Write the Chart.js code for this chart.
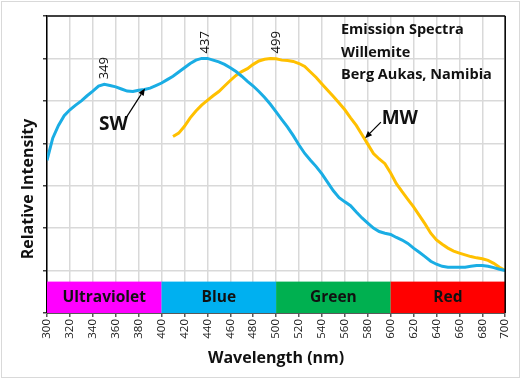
<!DOCTYPE html>
<html>
<head>
<meta charset="utf-8">
<script src="https://cdn.jsdelivr.net/npm/chart.js@4.4.1/dist/chart.umd.min.js"></script>
<style>
html,body{margin:0;padding:0;background:#fff;}
#wrap{width:521px;height:379px;position:relative;}
</style>
</head>
<body>
<div id="wrap"><canvas id="c" width="521" height="379"></canvas></div>
<script>
// Wavelength categories (nm)
const wavelengths = [300,305,310,315,320,325,330,335,340,345,350,355,360,365,370,375,380,385,390,395,
400,405,410,415,420,425,430,435,440,445,450,455,460,465,470,475,480,485,490,495,
500,505,510,515,520,525,530,535,540,545,550,555,560,565,570,575,580,585,590,595,
600,605,610,615,620,625,630,635,640,645,650,655,660,665,670,675,680,685,690,695,700];

// SW (short wave UV) relative intensity
const swValues = [2.60,3.12,3.42,3.65,3.79,3.90,4.00,4.12,4.23,4.35,4.39,4.36,4.33,4.28,4.23,4.22,4.25,4.27,4.30,4.36,
4.42,4.50,4.58,4.68,4.78,4.88,4.96,5.00,5.00,4.96,4.92,4.86,4.78,4.69,4.58,4.46,4.35,4.22,4.08,3.92,
3.74,3.56,3.38,3.18,2.96,2.76,2.60,2.45,2.28,2.08,1.88,1.72,1.62,1.53,1.38,1.24,1.12,1.00,0.92,0.88,
0.85,0.78,0.72,0.64,0.53,0.43,0.33,0.22,0.15,0.10,0.08,0.08,0.08,0.08,0.10,0.12,0.12,0.10,0.07,0.03,0.00];

// MW (mid wave UV) relative intensity
const mwValues = [null,null,null,null,null,null,null,null,null,null,null,null,null,null,null,null,null,null,null,null,
null,null,3.16,3.24,3.40,3.60,3.76,3.90,4.01,4.12,4.22,4.35,4.48,4.60,4.69,4.76,4.86,4.94,4.98,5.00,
4.99,4.96,4.95,4.93,4.88,4.81,4.68,4.55,4.40,4.25,4.10,3.95,3.79,3.60,3.42,3.20,2.98,2.76,2.63,2.52,
2.30,2.05,1.86,1.68,1.50,1.30,1.10,0.88,0.72,0.62,0.53,0.46,0.41,0.37,0.33,0.30,0.28,0.24,0.17,0.08,0.00];

// Spectral bands
const bandNames = ['Ultraviolet','Blue','Green','Red'];
const bandFrom = [300,400,500,600];
const bandTo = [400,500,600,700];
const bandColors = ['#FF00FF','#00B0F0','#00B050','#FF0000'];

// Peak labels
const peakLabels = ['349','437','499'];
const peakX = [349,437,499];
const peakY = [4.39,5.00,5.00];

const titleLines = ['Emission Spectra','Willemite','Berg Aukas, Namibia'];

function pts(vals){
  const out=[];
  for(let i=0;i<wavelengths.length;i++){ if(vals[i]!==null) out.push({x:wavelengths[i],y:vals[i]}); }
  return out;
}

const FONT = '"Open Sans", "Noto Sans", sans-serif';

function arrow(ctx, x1,y1,x2,y2){
  ctx.save();
  ctx.strokeStyle='#000'; ctx.fillStyle='#000'; ctx.lineWidth=1.2;
  const a=Math.atan2(y2-y1,x2-x1);
  const hl=7, hw=3;
  const bx=x2-hl*Math.cos(a), by=y2-hl*Math.sin(a);
  ctx.beginPath(); ctx.moveTo(x1,y1); ctx.lineTo(bx,by); ctx.stroke();
  ctx.beginPath(); ctx.moveTo(x2,y2);
  ctx.lineTo(bx+hw*Math.sin(a), by-hw*Math.cos(a));
  ctx.lineTo(bx-hw*Math.sin(a), by+hw*Math.cos(a));
  ctx.closePath(); ctx.fill();
  ctx.restore();
}

const decor = {
  id:'decor',
  beforeDatasetsDraw(chart){
    const {ctx, scales:{x,y}} = chart;
    const top = y.getPixelForValue(-0.26), bot = y.getPixelForValue(-1);
    ctx.save();
    for(let i=0;i<bandNames.length;i++){
      const l=x.getPixelForValue(bandFrom[i]), r=x.getPixelForValue(bandTo[i]);
      ctx.fillStyle=bandColors[i];
      ctx.fillRect(l,top,r-l,bot-top);
      ctx.fillStyle='#111';
      ctx.font='bold 15.5px '+FONT;
      ctx.textAlign='center'; ctx.textBaseline='middle';
      ctx.fillText(bandNames[i],(l+r)/2,(top+bot)/2+0.5);
    }
    ctx.restore();
  },
  afterDatasetsDraw(chart){
    const {ctx, chartArea:ca, scales:{x,y}} = chart;
    ctx.save();
    // borders top & right
    ctx.strokeStyle='#404040'; ctx.lineWidth=2;
    ctx.beginPath(); ctx.moveTo(ca.left,ca.top); ctx.lineTo(ca.right,ca.top); ctx.stroke();
    ctx.strokeStyle='#000'; ctx.lineWidth=1.5;
    ctx.beginPath(); ctx.moveTo(ca.right,ca.top); ctx.lineTo(ca.right,ca.bottom); ctx.stroke();
    // peak labels
    ctx.fillStyle='#111';
    ctx.font='13px '+FONT;
    for(let i=0;i<peakLabels.length;i++){
      const px=x.getPixelForValue(peakX[i]), py=y.getPixelForValue(peakY[i]);
      ctx.save(); ctx.translate(px+1,py-5); ctx.rotate(-Math.PI/2);
      ctx.textAlign='left'; ctx.textBaseline='middle';
      ctx.fillText(peakLabels[i],0,0); ctx.restore();
    }
    // title
    ctx.font='bold 14.5px '+FONT;
    ctx.textAlign='left'; ctx.textBaseline='middle';
    titleLines.forEach((t,i)=>ctx.fillText(t,341,30+i*22.5));
    // SW / MW labels
    ctx.font='bold 19px '+FONT;
    ctx.textAlign='center';
    ctx.fillText('SW', x.getPixelForValue(358), y.getPixelForValue(3.43));
    ctx.fillText('MW', x.getPixelForValue(608), y.getPixelForValue(3.58));
    arrow(ctx, x.getPixelForValue(369), y.getPixelForValue(3.6), x.getPixelForValue(385.5), y.getPixelForValue(4.29));
    arrow(ctx, x.getPixelForValue(591.5), y.getPixelForValue(3.5), x.getPixelForValue(577.7), y.getPixelForValue(3.12));
    // axis titles
    ctx.font='bold 16px '+FONT;
    ctx.textAlign='center';
    ctx.fillText('Wavelength (nm)', (ca.left+ca.right)/2, 358);
    ctx.save(); ctx.translate(28,189); ctx.rotate(-Math.PI/2);
    ctx.fillText('Relative Intensity',0,0); ctx.restore();
    // outer border
    ctx.strokeStyle='#D9D9D9'; ctx.lineWidth=1;
    ctx.strokeRect(1.5,1.5,518,376);
    ctx.restore();
  }
};

new Chart(document.getElementById('c'), {
  type:'line',
  data:{
    datasets:[
      {label:'SW', data:pts(swValues), borderColor:'#1AADE4', borderWidth:3, pointRadius:0, tension:0},
      {label:'MW', data:pts(mwValues), borderColor:'#FFC000', borderWidth:3, pointRadius:0, tension:0}
    ]
  },
  options:{
    responsive:false, animation:false, devicePixelRatio:1,
    layout:{padding:{top:16,right:13,left:0,bottom:0}},
    plugins:{legend:{display:false}, tooltip:{enabled:false}},
    scales:{
      x:{
        type:'linear', min:300, max:700,
        afterBuildTicks(s){ const t=[]; for(let v=300; v<=700; v+=10) t.push({value:v}); s.ticks=t; },
        afterFit(s){ s.height=66; },
        ticks:{
          autoSkip:false, minRotation:90, maxRotation:90, padding:2,
          color:'#1a1a1a', font:{family:FONT, size:11.5},
          callback:(v)=> (v%20===0 ? String(v) : null)
        },
        grid:{
          color:'#D9D9D9', lineWidth:1.5, tickLength:4,
          tickColor:(c)=> (c.tick && c.tick.value%20===0 ? '#595959' : 'rgba(0,0,0,0)')
        },
        border:{display:true, color:'#595959', width:1}
      },
      y:{
        min:-1, max:6,
        afterBuildTicks(s){ const t=[]; for(let v=-1; v<=6; v++) t.push({value:v}); s.ticks=t; },
        afterFit(s){ s.width=47; },
        ticks:{display:false},
        grid:{color:'#D9D9D9', lineWidth:1.5, tickLength:4, tickColor:'#404040'},
        border:{display:true, color:'#000', width:1.5}
      }
    }
  },
  plugins:[decor]
});
</script>
</body>
</html>
